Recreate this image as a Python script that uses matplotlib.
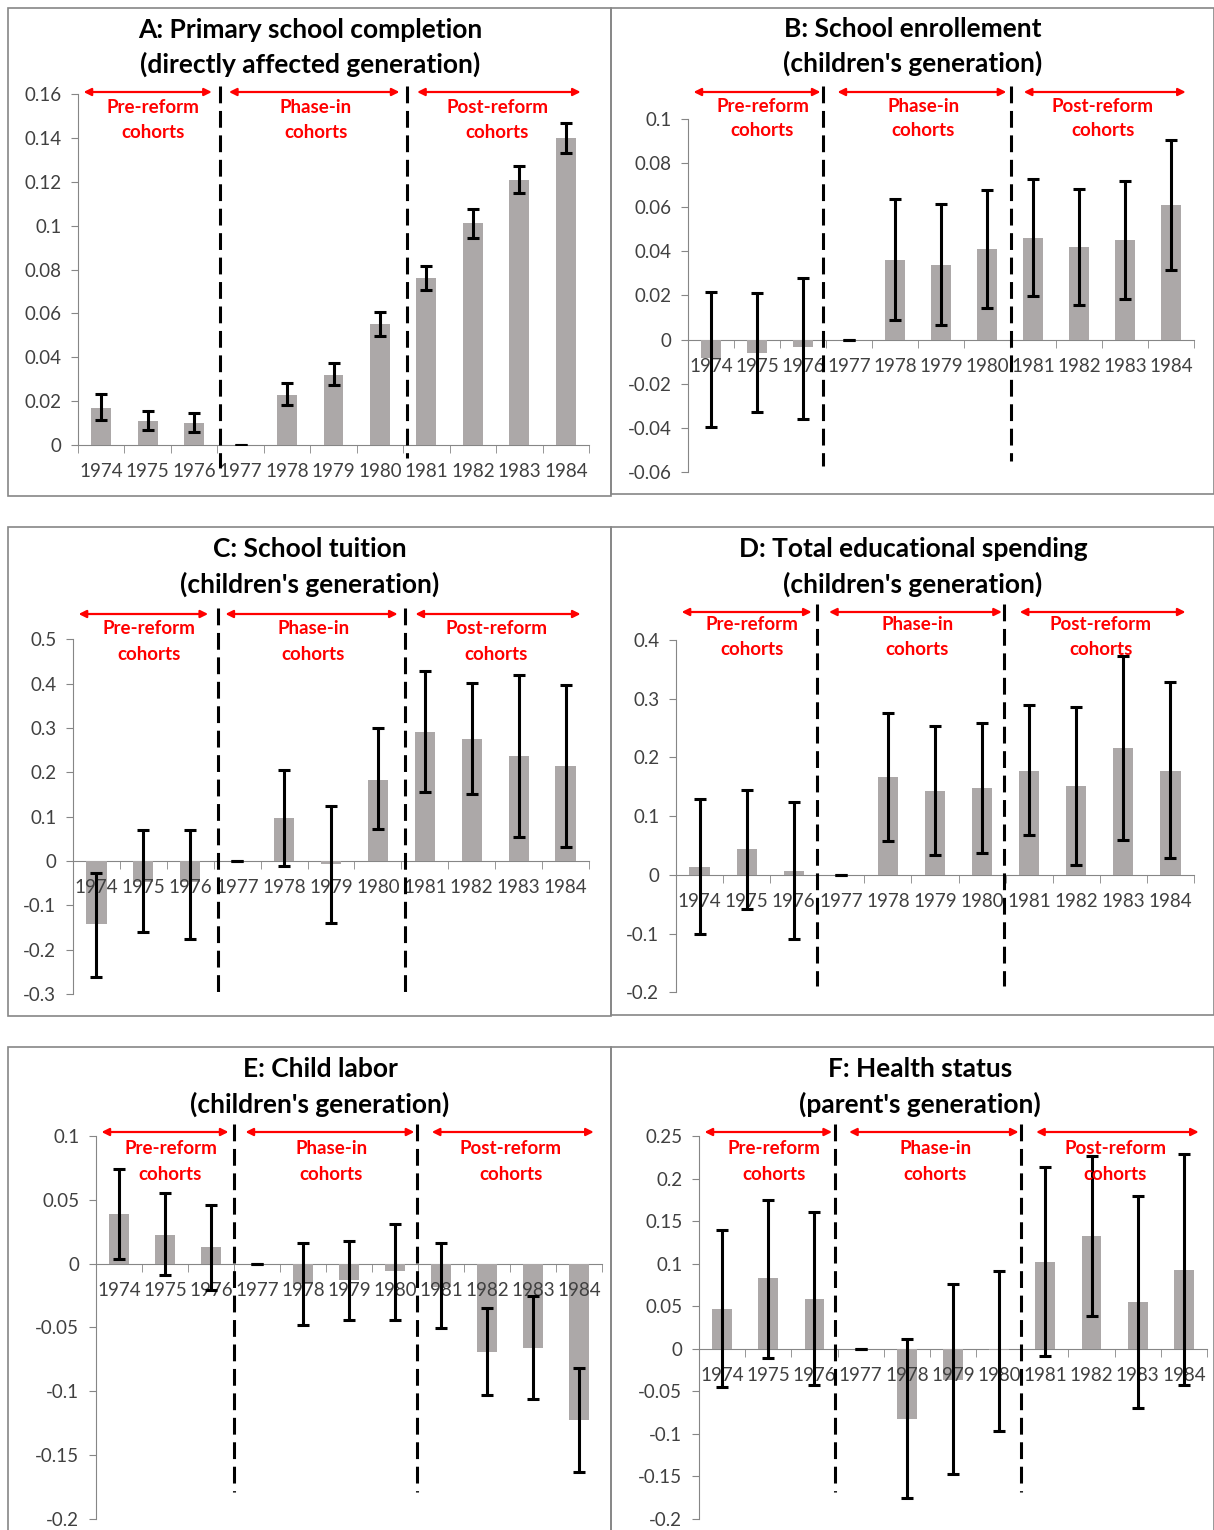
import numpy as np
import matplotlib
matplotlib.use('Agg')
import matplotlib.pyplot as plt
import matplotlib.transforms as mtransforms
from matplotlib.patches import Rectangle

plt.rcParams['font.family'] = ['Lato', 'DejaVu Sans']

# 数据
years = ['1974', '1975', '1976', '1977', '1978', '1979', '1980', '1981', '1982', '1983', '1984']

a_est = [0.017, 0.011, 0.010, 0, 0.023, 0.032, 0.055, 0.076, 0.101, 0.121, 0.140]
a_lo = [0.0114, 0.0068, 0.0058, 0, 0.0181, 0.0272, 0.0497, 0.0705, 0.0944, 0.1147, 0.1331]
a_hi = [0.0231, 0.0155, 0.0147, 0, 0.0283, 0.0372, 0.0605, 0.0818, 0.1075, 0.1274, 0.1466]

b_est = [-0.0086, -0.0059, -0.0036, 0, 0.036, 0.0337, 0.041, 0.0459, 0.0419, 0.045, 0.0611]
b_lo = [-0.0397, -0.0329, -0.0359, 0, 0.0091, 0.0068, 0.0145, 0.0197, 0.0156, 0.0183, 0.0315]
b_hi = [0.0216, 0.0213, 0.028, 0, 0.0636, 0.0616, 0.0681, 0.0728, 0.0684, 0.0722, 0.0907]

c_est = [-0.143, -0.047, -0.047, 0, 0.098, -0.0075, 0.1835, 0.292, 0.276, 0.236, 0.2135]
c_lo = [-0.262, -0.161, -0.177, 0, -0.012, -0.14, 0.072, 0.156, 0.150, 0.053, 0.0316]
c_hi = [-0.027, 0.069, 0.069, 0, 0.206, 0.123, 0.299, 0.428, 0.4015, 0.419, 0.396]

d_est = [0.013, 0.0437, 0.0074, 0, 0.166, 0.1425, 0.1476, 0.1776, 0.151, 0.2168, 0.1776]
d_lo = [-0.1005, -0.058, -0.1095, 0, 0.0584, 0.034, 0.038, 0.0675, 0.017, 0.0596, 0.0295]
d_hi = [0.129, 0.145, 0.124, 0, 0.275, 0.253, 0.258, 0.2895, 0.2856, 0.3735, 0.328]

e_est = [0.0388, 0.0227, 0.0128, 0, -0.016, -0.0125, -0.006, -0.018, -0.069, -0.066, -0.1227]
e_lo = [0.0036, -0.009, -0.021, 0, -0.048, -0.044, -0.044, -0.0505, -0.103, -0.106, -0.163]
e_hi = [0.074, 0.055, 0.046, 0, 0.016, 0.018, 0.031, 0.016, -0.035, -0.0255, -0.082]

f_est = [0.0465, 0.083, 0.058, 0, -0.082, -0.037, -0.002, 0.102, 0.132, 0.055, 0.092]
f_lo = [-0.045, -0.0105, -0.043, 0, -0.175, -0.147, -0.0965, -0.009, 0.038, -0.0695, -0.043]
f_hi = [0.140, 0.175, 0.161, 0, 0.012, 0.076, 0.091, 0.214, 0.227, 0.179, 0.229]

titles = [
    ('A: Primary school completion', '(directly affected generation)'),
    ('B: School enrollement', "(children's generation)"),
    ('C: School tuition', "(children's generation)"),
    ('D: Total educational spending', "(children's generation)"),
    ('E: Child labor', "(children's generation)"),
    ('F: Health status', "(parent's generation)"),
]

y_ticks = [
    np.arange(0, 0.161, 0.02),
    np.arange(-0.06, 0.101, 0.02),
    np.arange(-0.3, 0.501, 0.1),
    np.arange(-0.2, 0.401, 0.1),
    np.arange(-0.2, 0.101, 0.05),
    np.arange(-0.2, 0.251, 0.05),
]

series = [(a_est, a_lo, a_hi), (b_est, b_lo, b_hi), (c_est, c_lo, c_hi),
          (d_est, d_lo, d_hi), (e_est, e_lo, e_hi), (f_est, f_lo, f_hi)]

# 版面 (像素)
W, H = 1214, 1530
# 面板边框, 绘图区 left/right/top/bottom, 标题中心, 箭头/文字y, 虚线范围
boxes = [(8, 8, 611, 496), (611, 8, 1214, 494), (8, 527, 611, 1016),
         (611, 527, 1214, 1015), (8, 1047, 611, 1540), (611, 1047, 1214, 1540)]
plot_px = [(78, 589, 94, 445), (688, 1194, 119.3, 471.7), (73, 589, 639.3, 994),
           (676, 1194, 640, 992.3), (96, 602, 1136, 1518.7), (699, 1207, 1136, 1519)]
title_px = [(310, 30, 64), (913, 29, 63), (310, 549, 584),
            (913, 549, 584), (320, 1069, 1104), (920, 1069, 1104)]
arrow_y = [92, 92, 614, 612, 1132, 1132]
label_y = [(107, 132), (106, 131), (629, 654), (625, 650), (1149, 1174), (1149, 1174)]
dash_x = [(2.56, 6.58), (2.43, 6.52), (2.6, 6.57), (2.5, 6.46), (2.49, 6.47), (2.45, 6.47)]
dash_span = [((86, 468), (86, 458)), ((86, 466), (86, 461)), ((608, 995), (608, 995)),
             ((604, 986), (604, 986)), ((1124, 1492), (1124, 1492)), ((1124, 1492), (1124, 1492))]

groups = [('Pre-reform', -0.38, 2.38, 1.12), ('Phase-in', 2.75, 6.42, 4.62),
          ('Post-reform', 6.8, 10.32, 8.52)]

bar_color = '#aca8a8'
axis_color = '#868686'
tick_color = '#404040'

fig = plt.figure(figsize=(W / 100, H / 100), dpi=100)

for (x0, y0, x1, y1) in boxes:
    fig.add_artist(Rectangle((x0 / W, 1 - y1 / H), (x1 - x0) / W, (y1 - y0) / H,
                             transform=fig.transFigure, fill=False,
                             edgecolor=axis_color, lw=1.2))

x = np.arange(len(years))

for i in range(6):
    est, lo, hi = series[i]
    est = np.array(est)
    lo = np.array(lo)
    hi = np.array(hi)
    l, r, t, b = plot_px[i]
    ax = fig.add_axes([l / W, 1 - b / H, (r - l) / W, (b - t) / H])
    ticks = y_ticks[i]
    ax.set_ylim(ticks[0], ticks[-1])
    ax.set_xlim(-0.5, len(years) - 0.5)
    ax.patch.set_alpha(0)

    ax.bar(x, est, width=0.43, color=bar_color, zorder=1)
    ax.errorbar(x, est, yerr=[est - lo, hi - est], fmt='none', ecolor='black',
                elinewidth=2.2, capsize=4, capthick=2.2, zorder=3)

    for s in ['top', 'right']:
        ax.spines[s].set_visible(False)
    ax.spines['left'].set_color(axis_color)
    ax.spines['bottom'].set_color(axis_color)
    ax.spines['bottom'].set_position(('data', 0))
    ax.spines['bottom'].set_zorder(0.5)

    ax.set_yticks(ticks)
    ax.set_yticklabels([f'{round(v, 2) + 0.0:g}' for v in ticks])
    ax.tick_params(axis='y', length=5, color=axis_color, labelsize=13.5,
                   labelcolor=tick_color, pad=7)
    ax.set_xticks(x)
    ax.set_xticklabels(years)
    ax.set_xticks(np.arange(-0.5, len(years)), minor=True)
    ax.tick_params(axis='x', which='major', length=0, labelsize=13.5,
                   labelcolor=tick_color, pad=13)
    ax.tick_params(axis='x', which='minor', length=6, color=axis_color,
                   direction='out')

    trans = mtransforms.blended_transform_factory(ax.transData, ax.transAxes)

    def fy(ypix):
        return (b - ypix) / (b - t)

    # 虚线
    for xd, (ya, yb) in zip(dash_x[i], dash_span[i]):
        ax.plot([xd, xd], [fy(ya), fy(yb)], transform=trans, color='black',
                lw=2.2, linestyle=(0, (5.5, 2.5)), clip_on=False, zorder=4)

    # 红色箭头和文字
    for name, xa, xb, xc in groups:
        ax.annotate('', xy=(xa, fy(arrow_y[i])), xytext=(xb, fy(arrow_y[i])),
                    xycoords=trans, textcoords=trans,
                    arrowprops=dict(arrowstyle='<|-|>', color='red', lw=1.6,
                                    mutation_scale=11, shrinkA=0, shrinkB=0),
                    annotation_clip=False)
        ax.text(xc, fy(label_y[i][0]), name, transform=trans, color='red',
                fontsize=13.5, fontweight='bold', ha='center', va='center')
        ax.text(xc, fy(label_y[i][1]), 'cohorts', transform=trans, color='red',
                fontsize=13.5, fontweight='bold', ha='center', va='center')

    # 标题
    tx, ty1, ty2 = title_px[i]
    fig.text(tx / W, 1 - ty1 / H, titles[i][0], fontsize=19, fontweight='bold',
             ha='center', va='center')
    fig.text(tx / W, 1 - ty2 / H, titles[i][1], fontsize=19, fontweight='bold',
             ha='center', va='center')

fig.savefig('out.png', dpi=100)
